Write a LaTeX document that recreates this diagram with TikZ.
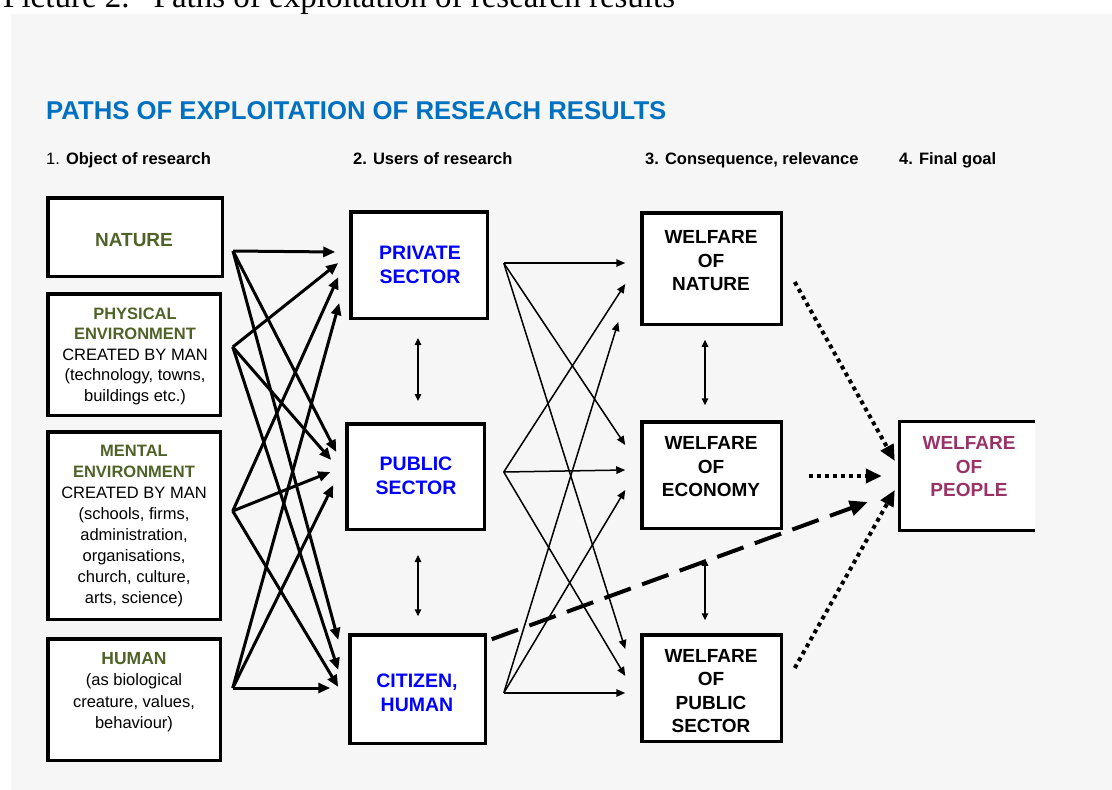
\documentclass[tikz,border=0pt]{standalone}
\usepackage{fontspec}
\setmainfont{Liberation Sans}
\newfontfamily\serifF{Liberation Serif}
\usetikzlibrary{arrows.meta,calc}
\definecolor{titleblue}{HTML}{0070C0}
\definecolor{olivegr}{HTML}{4F6228}
\definecolor{purp}{HTML}{993366}
\definecolor{bgc}{HTML}{F6F6F6}
\begin{document}
\begin{tikzpicture}[x=1pt,y=-1pt,
  box/.style={draw=black, line width=3.5pt, fill=white, inner sep=0pt},
  txt/.style={align=center, inner sep=0pt},
  objtxt/.style={txt, font=\fontsize{16.5}{20.5}\selectfont},
  usertxt/.style={txt, text=blue, font=\bfseries\fontsize{19.5}{24.5}\selectfont},
  weltxt/.style={txt, font=\bfseries\fontsize{19}{23.5}\selectfont},
  hdr/.style={anchor=base west, inner sep=0pt, font=\fontsize{16.5}{20}\selectfont},
  heavyarrow/.style={line width=3pt, -{Triangle[length=12pt,width=10pt]}},
  lightarrow/.style={line width=1.5pt, -{Triangle[length=9pt,width=7.5pt]}},
  twoway/.style={line width=1.5pt, {Triangle[length=7pt,width=6.5pt]}-{Triangle[length=7pt,width=6.5pt]}},
  dotarrow/.style={line width=4pt, dash pattern=on 4pt off 4pt, -{Triangle[length=16pt,width=14pt]}},
  dasharrow/.style={line width=4pt, dash pattern=on 28pt off 12pt, -{Triangle[length=18pt,width=15pt]}}
]
\useasboundingbox (0,0) rectangle (1112,790);
\fill[white] (0,0) rectangle (1112,790);
\fill[bgc] (11,14) rectangle (1112,790);

% clipped caption at the very top (cut off in the reference as well)
\begin{scope}
\clip (0,0) rectangle (1112,14);
\node[anchor=base west, inner sep=0pt, font=\serifF\fontsize{33}{40}\selectfont] (caption) at (3,7.5) {Picture 2.\hspace{24pt}Paths of exploitation of research results};
\end{scope}

% title and column headers
\node[anchor=base west, inner sep=0pt, text=titleblue, font=\bfseries\fontsize{25.7}{30}\selectfont] (title) at (46,119) {PATHS OF EXPLOITATION OF RESEACH RESULTS};
\node[hdr] (h1) at (46,164) {1. \textbf{Object of research}};
\node[hdr] (h2) at (353,164) {\textbf{2. Users of research}};
\node[hdr] (h3) at (645,164) {\textbf{3. Consequence, relevance}};
\node[hdr] (h4) at (899,164) {\textbf{4. Final goal}};

% column 1 boxes
\node[box, minimum width=174.5pt, minimum height=78.5pt] (nature) at (135,237) {};
\node[box, minimum width=172.5pt, minimum height=121.5pt] (physical) at (134,354.5) {};
\node[box, minimum width=172.5pt, minimum height=187.5pt] (mental) at (134,525.5) {};
\node[box, minimum width=172.5pt, minimum height=121.5pt] (human) at (134,699.5) {};

\node[txt, text=olivegr, font=\bfseries\fontsize{19}{23}\selectfont] (nature-t) at (134,240) {NATURE};
\node[objtxt] (physical-t) at (135,356) {\textcolor{olivegr}{\bfseries PHYSICAL}\\\textcolor{olivegr}{\bfseries ENVIRONMENT}\\CREATED BY MAN\\(technology, towns,\\buildings etc.)};
\node[objtxt, font=\fontsize{16.5}{21}\selectfont] (mental-t) at (134,526) {\textcolor{olivegr}{\bfseries MENTAL}\\\textcolor{olivegr}{\bfseries ENVIRONMENT}\\CREATED BY MAN\\(schools, firms,\\administration,\\organisations,\\church, culture,\\arts, science)};
\node[objtxt, font=\fontsize{16.5}{21.5}\selectfont] (human-t) at (134,692) {\textcolor{olivegr}{\bfseries\fontsize{17.5}{21.5}\selectfont HUMAN}\\(as biological\\creature, values,\\behaviour)};

% column 2 boxes
\node[box, minimum width=136.5pt, minimum height=106.5pt] (private) at (419,265) {};
\node[box, minimum width=137.5pt, minimum height=105.5pt] (public) at (415.5,476.5) {};
\node[box, minimum width=135.5pt, minimum height=108.5pt] (citizen) at (417.5,689) {};
\node[usertxt] (private-t) at (420,265) {PRIVATE\\SECTOR};
\node[usertxt] (public-t) at (416,476) {PUBLIC\\SECTOR};
\node[usertxt] (citizen-t) at (417,693) {CITIZEN,\\HUMAN};

% column 3 boxes
\node[box, minimum width=139.5pt, minimum height=111.5pt] (wnat) at (711.5,268.5) {};
\node[box, minimum width=139.5pt, minimum height=106.5pt] (weco) at (711.5,475) {};
\node[box, minimum width=139.5pt, minimum height=106.5pt] (wpub) at (711.5,688) {};
\node[weltxt] (wnat-t) at (711,261) {WELFARE\\OF\\NATURE};
\node[weltxt] (weco-t) at (711,467) {WELFARE\\OF\\ECONOMY};
\node[weltxt] (wpub-t) at (711,691) {WELFARE\\OF\\PUBLIC\\SECTOR};

% column 4 box (right side open)
\node[fill=white, inner sep=0pt, minimum width=135.5pt, minimum height=108.5pt] (wpeople) at (967.5,476) {};
\draw[line width=3.5pt] (wpeople.north east) -- (wpeople.north west) -- (wpeople.south west) -- (wpeople.south east);
\node[weltxt, text=purp] (wpeople-t) at (969,467) {WELFARE\\OF\\PEOPLE};

% connector end points
\coordinate (natO) at ($(nature.east)+(9,14)$);
\coordinate (phyO) at ($(physical.east)+(10.75,-7.5)$);
\coordinate (menO) at ($(mental.east)+(10.75,-14.5)$);
\coordinate (humO) at ($(human.east)+(10.75,-11.5)$);

\coordinate (priN) at ($(private.west)+(-13.75,-13)$);
\coordinate (priP) at ($(private.west)+(-10.75,-2)$);
\coordinate (priM) at ($(private.west)+(-10.75,12)$);
\coordinate (priH) at ($(private.west)+(-9.75,38)$);
\coordinate (pubN) at ($(public.west)+(-8.75,-24.5)$);
\coordinate (pubP) at ($(public.west)+(-13.75,-16.5)$);
\coordinate (pubM) at ($(public.west)+(-14.75,-4.5)$);
\coordinate (pubH) at ($(public.west)+(-11.75,8.5)$);
\coordinate (citN) at ($(citizen.west)+(-9.75,-49)$);
\coordinate (citP) at ($(citizen.west)+(-9.75,-19)$);
\coordinate (citM) at ($(citizen.west)+(-9.75,-2)$);
\coordinate (citH) at ($(citizen.west)+(-17.75,-1)$);

\coordinate (priO) at ($(private.east)+(14.75,-2)$);
\coordinate (pubO) at ($(public.east)+(17.75,-4.5)$);
\coordinate (citO) at ($(citizen.east)+(16.75,4)$);

\coordinate (wnatA) at ($(wnat.west)+(-14.75,-5.5)$);
\coordinate (wnatB) at ($(wnat.west)+(-14.75,15.5)$);
\coordinate (wnatC) at ($(wnat.west)+(-21.75,53.5)$);
\coordinate (wecoA) at ($(weco.west)+(-14.75,-30)$);
\coordinate (wecoB) at ($(weco.west)+(-14.75,-5)$);
\coordinate (wecoC) at ($(weco.west)+(-14.75,15)$);
\coordinate (wpubA) at ($(wpub.west)+(-14.75,-39)$);
\coordinate (wpubB) at ($(wpub.west)+(-14.75,-12)$);
\coordinate (wpubC) at ($(wpub.west)+(-14.75,5)$);

% column 1 -> column 2
\draw[heavyarrow] (natO) -- (priN);
\draw[heavyarrow] (natO) -- (pubN);
\draw[heavyarrow] (natO) -- (citN);
\draw[heavyarrow] (phyO) -- (priP);
\draw[heavyarrow] (phyO) -- (pubP);
\draw[heavyarrow] (phyO) -- (citP);
\draw[heavyarrow] (menO) -- (priM);
\draw[heavyarrow] (menO) -- (pubM);
\draw[heavyarrow] (menO) -- (citM);
\draw[heavyarrow] (humO) -- (priH);
\draw[heavyarrow] (humO) -- (pubH);
\draw[heavyarrow] (humO) -- (citH);

% column 2 -> column 3
\draw[lightarrow] (priO) -- (wnatA);
\draw[lightarrow] (priO) -- (wecoA);
\draw[lightarrow] (priO) -- (wpubA);
\draw[lightarrow] (pubO) -- (wnatB);
\draw[lightarrow] (pubO) -- (wecoB);
\draw[lightarrow] (pubO) -- (wpubB);
\draw[lightarrow] (citO) -- (wnatC);
\draw[lightarrow] (citO) -- (wecoC);
\draw[lightarrow] (citO) -- (wpubC);

% two-way arrows
\draw[twoway] ($(private.south)+(-1,18)$) -- ($(public.north)+(2.5,-21)$);
\draw[twoway] ($(public.south)+(2.5,24)$) -- ($(citizen.north)+(0.5,-16.75)$);
\draw[twoway] ($(wnat.south)+(-6.5,13.75)$) -- ($(weco.north)+(-6.5,-14.75)$);
\draw[twoway] ($(weco.south)+(-6.5,28.75)$) -- ($(wpub.north)+(-6.5,-12.75)$);

% final goal arrows
\draw[dotarrow] ($(wnat.east)+(11.75,13.5)$) -- ($(wpeople.west)+(-4.75,-15)$);
\draw[dotarrow] ($(weco.east)+(25.75,1)$) -- ($(wpeople.west)+(-17.75,0)$);
\draw[dotarrow] ($(wpub.east)+(11.75,-20)$) -- ($(wpeople.west)+(-4.75,14)$);
\draw[dasharrow] ($(citizen.north east)+(4.75,6.25)$) -- ($(wpeople.west)+(-31.75,26)$);
\end{tikzpicture}
\end{document}
